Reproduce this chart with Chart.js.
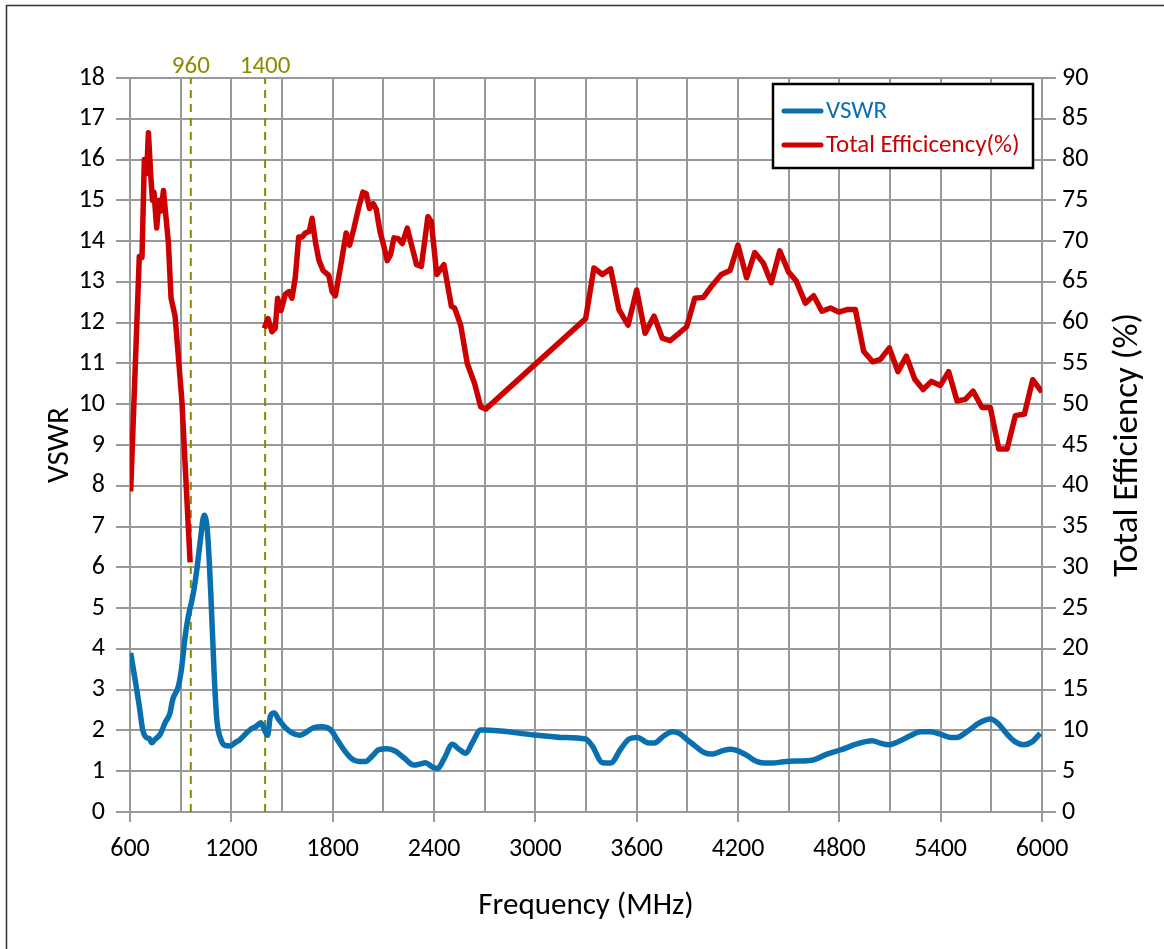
<!DOCTYPE html>
<html>
<head>
<meta charset="utf-8">
<title>VSWR / Total Efficiency</title>
<script src="https://cdn.jsdelivr.net/npm/chart.js@4.4.1/dist/chart.umd.min.js"></script>
<style>
  body { margin: 0; background: #fff; }
  canvas { display: block; }
</style>
</head>
<body>
<canvas id="antChart" width="1164" height="949"></canvas>
<script>
// VSWR olcum noktalari (MHz)
const vswrFreq = [604, 630, 655, 675, 699, 715, 729, 748, 778, 808, 837, 853, 887, 907, 927, 946, 972, 996, 1015, 1039,
  1059, 1079, 1098, 1114, 1138, 1164, 1193, 1223, 1253, 1276, 1312, 1347, 1375, 1395, 1415, 1431, 1454, 1480, 1520, 1559,
  1605, 1638, 1688, 1737, 1787, 1826, 1866, 1915, 1955, 1995, 2034, 2074, 2123, 2172, 2222, 2281, 2311, 2350, 2384, 2420,
  2459, 2509, 2548, 2588, 2627, 2676, 2696, 2992, 3150, 3298, 3337, 3397, 3446, 3505, 3555, 3604, 3663, 3703, 3762, 3811,
  3851, 3900, 3949, 3999, 4048, 4107, 4156, 4200, 4255, 4304, 4353, 4403, 4470, 4549, 4638, 4727, 4806, 4905, 4994, 5043,
  5092, 5151, 5220, 5280, 5339, 5398, 5457, 5497, 5556, 5635, 5694, 5743, 5793, 5842, 5891, 5941, 5990];
const vswrValues = [3.9, 3.25, 2.6, 2.02, 1.82, 1.8, 1.7, 1.78, 1.9, 2.19, 2.43, 2.76, 3.09, 3.58, 4.32, 4.81, 5.3, 5.95, 6.61, 7.28,
  6.85, 5.3, 3.42, 2.27, 1.78, 1.63, 1.62, 1.7, 1.78, 1.88, 2.02, 2.1, 2.19, 2.02, 1.88, 2.35, 2.43, 2.27, 2.07, 1.94,
  1.88, 1.94, 2.07, 2.09, 2.02, 1.78, 1.53, 1.3, 1.24, 1.24, 1.37, 1.53, 1.55, 1.49, 1.33, 1.15, 1.17, 1.21, 1.12, 1.06,
  1.3, 1.66, 1.54, 1.44, 1.7, 2.01, 2.01, 1.89, 1.83, 1.79, 1.62, 1.21, 1.2, 1.54, 1.79, 1.83, 1.7, 1.69, 1.87, 1.97,
  1.93, 1.77, 1.61, 1.46, 1.42, 1.5, 1.54, 1.5, 1.38, 1.25, 1.2, 1.2, 1.23, 1.25, 1.27, 1.42, 1.52, 1.67, 1.75, 1.69,
  1.65, 1.73, 1.87, 1.97, 1.97, 1.91, 1.83, 1.83, 1.97, 2.2, 2.28, 2.16, 1.91, 1.72, 1.65, 1.72, 1.93];

// Toplam verim (%) - 960 ile 1400 arasi olcum yok (null)
const effFreq = [604, 655, 671, 685, 699, 709, 723, 733, 742, 758, 772, 784, 798, 827, 843, 867, 907, 956,
  1180,
  1395, 1417, 1441, 1460, 1474, 1494, 1520, 1540, 1559, 1579, 1599, 1619, 1638, 1662, 1678, 1698, 1718, 1743, 1777, 1797,
  1816, 1846, 1880, 1900, 1925, 1955, 1979, 1999, 2018, 2040, 2058, 2080, 2103, 2123, 2142, 2163, 2188, 2212, 2242, 2262,
  2297, 2325, 2364, 2384, 2416, 2459, 2503, 2522, 2558, 2597, 2641, 2676, 2706, 3298, 3347, 3397, 3446, 3495, 3549, 3600,
  3650, 3703, 3752, 3798, 3851, 3896, 3944, 3995, 4048, 4101, 4153, 4200, 4251, 4299, 4350, 4397, 4447, 4500, 4545, 4599,
  4648, 4697, 4747, 4796, 4846, 4895, 4944, 4997, 5043, 5096, 5147, 5197, 5246, 5296, 5345, 5398, 5447, 5497, 5546, 5592,
  5645, 5694, 5744, 5793, 5842, 5896, 5945, 6000];
const effValues = [39.3, 68.1, 68, 80, 78.3, 83.3, 78, 75, 76, 71.6, 75, 73.7, 76.2, 69.9, 63, 60.8, 50.5, 30.6,
  null,
  59.3, 60.5, 58.9, 59.3, 63, 61.5, 63.5, 63.8, 63, 65.6, 70.5, 70.5, 71, 71.2, 72.8, 69.9, 67.7, 66.4, 65.8, 63.8,
  63.3, 66.8, 71, 69.5, 71.5, 74.2, 76, 75.8, 74, 74.6, 73.9, 71.2, 69.4, 67.6, 68.3, 70.4, 70.3, 69.7, 71.6, 69.9,
  67.1, 66.9, 73, 72.4, 65.9, 67.1, 62, 61.8, 59.7, 55, 52.5, 49.7, 49.4, 60.5, 66.7, 65.9, 66.6, 61.6, 59.7, 64,
  58.7, 60.8, 58.1, 57.8, 58.7, 59.5, 63, 63.1, 64.6, 65.9, 66.4, 69.5, 65.5, 68.6, 67.3, 64.9, 68.8, 66.2, 65.1, 62.4,
  63.3, 61.4, 61.8, 61.3, 61.6, 61.6, 56.5, 55.2, 55.5, 56.9, 54, 55.9, 53.1, 51.8, 52.8, 52.3, 54, 50.4, 50.6, 51.6,
  49.6, 49.6, 44.5, 44.5, 48.6, 48.8, 53, 51.5];

// Bant sinirlari (kesikli cizgiler)
const markerFreqs = [960, 1400];
const seriesLabels = ['VSWR', 'Total Efficicency(%)'];
const rightTitle = 'Total Efficiency (%)';

const BLUE = '#0a6fae';
const RED = '#cc0000';
const OLIVE = '#8a8a00';
const GRID = '#999999';
const FONT = 'Carlito, "Open Sans", sans-serif';

function toPoints(xs, ys) {
    return xs.map((x, i) => ({ x: x, y: ys[i] }));
}

const markerSets = markerFreqs.map(f => ({
    type: 'line',
    data: [{ x: f, y: 0 }, { x: f, y: 18 }],
    yAxisID: 'y',
    borderColor: OLIVE,
    borderWidth: 2,
    borderDash: [8, 6],
    pointRadius: 0,
    fill: false
}));

// Arka plan, cerceve ve sag eksen basligi
const framePlugin = {
    id: 'frame',
    beforeDraw(chart) {
        const c = chart.ctx;
        c.save();
        c.fillStyle = '#fff';
        c.fillRect(0, 0, chart.width, chart.height);
        c.strokeStyle = '#333';
        c.lineWidth = 1.5;
        c.beginPath();
        c.moveTo(6.5, chart.height);
        c.lineTo(6.5, 5.5);
        c.lineTo(chart.width, 5.5);
        c.stroke();
        // sag baslik asagidan yukariya okunuyor
        const a = chart.chartArea;
        c.translate(1128, (a.top + a.bottom) / 2);
        c.rotate(-Math.PI / 2);
        c.fillStyle = '#000';
        c.font = '35px ' + FONT;
        c.textAlign = 'center';
        c.textBaseline = 'middle';
        c.fillText(rightTitle, 0, 0);
        c.restore();
    }
};

// Grafik icindeki lejant kutusu
const legendBox = {
    id: 'legendBox',
    afterDraw(chart) {
        const c = chart.ctx;
        const x = 773, y = 84, w = 260, h = 84;
        c.save();
        c.fillStyle = '#fff';
        c.fillRect(x, y, w, h);
        c.strokeStyle = '#000';
        c.lineWidth = 2.5;
        c.strokeRect(x, y, w, h);
        c.font = '25px ' + FONT;
        c.textBaseline = 'middle';
        [BLUE, RED].forEach((col, i) => {
            const ly = y + 27 + i * 34;
            c.strokeStyle = col;
            c.lineWidth = 5;
            c.lineCap = 'round';
            c.beginPath();
            c.moveTo(x + 11, ly);
            c.lineTo(x + 48, ly);
            c.stroke();
            c.fillStyle = col;
            c.fillText(seriesLabels[i], x + 53, ly + 1);
        });
        c.restore();
    }
};

const ctx = document.getElementById('antChart').getContext('2d');
const chart = new Chart(ctx, {
    type: 'line',
    data: {
        datasets: [{
            label: seriesLabels[0],
            data: toPoints(vswrFreq, vswrValues),
            yAxisID: 'y',
            borderColor: BLUE,
            borderWidth: 5.5,
            pointRadius: 0,
            cubicInterpolationMode: 'monotone',
            fill: false
        }, {
            label: seriesLabels[1],
            data: toPoints(effFreq, effValues),
            yAxisID: 'y2',
            borderColor: RED,
            borderWidth: 5.5,
            pointRadius: 0,
            tension: 0,
            spanGaps: false,
            borderJoinStyle: 'round',
            fill: false
        }].concat(markerSets)
    },
    options: {
        responsive: false,
        animation: false,
        layout: { padding: 0 },
        plugins: {
            legend: { display: false },
            tooltip: { enabled: false }
        },
        scales: {
            x: {
                type: 'linear',
                position: 'bottom',
                min: 600,
                max: 6000,
                afterFit: s => { s.height = 137; },
                ticks: {
                    stepSize: 300,
                    autoSkip: false,
                    maxRotation: 0,
                    padding: 12,
                    color: '#000',
                    font: { family: FONT, size: 26 },
                    callback: v => (v % 600 === 0 ? String(v) : '')
                },
                grid: {
                    color: GRID,
                    lineWidth: 2,
                    tickLength: 10,
                    tickColor: c => (c.tick && c.tick.value % 600 === 0 ? GRID : 'rgba(0,0,0,0)')
                },
                border: { color: GRID, width: 2 },
                title: {
                    display: true,
                    text: 'Frequency (MHz)',
                    color: '#000',
                    font: { family: FONT, size: 31 },
                    padding: { top: 0, bottom: 24 }
                }
            },
            xTop: {
                type: 'linear',
                position: 'top',
                min: 600,
                max: 6000,
                afterFit: s => { s.height = 78; },
                afterBuildTicks: s => { s.ticks = markerFreqs.map(v => ({ value: v })); },
                ticks: {
                    autoSkip: false,
                    maxRotation: 0,
                    padding: -4,
                    color: OLIVE,
                    font: { family: FONT, size: 25 },
                    callback: v => String(v)
                },
                grid: { display: false, drawTicks: false },
                border: { display: false }
            },
            y: {
                position: 'left',
                min: 0,
                max: 18,
                afterFit: s => { s.width = 130; },
                ticks: {
                    stepSize: 1,
                    padding: 11,
                    color: '#000',
                    font: { family: FONT, size: 26 }
                },
                grid: { color: GRID, lineWidth: 2, tickLength: 14 },
                border: { color: GRID, width: 2 },
                title: {
                    display: true,
                    text: 'VSWR',
                    color: '#000',
                    font: { family: FONT, size: 31 },
                    padding: { top: 42, bottom: 0 }
                }
            },
            y2: {
                position: 'right',
                min: 0,
                max: 90,
                afterFit: s => { s.width = 122; },
                ticks: {
                    stepSize: 5,
                    padding: 6,
                    color: '#000',
                    font: { family: FONT, size: 26 }
                },
                grid: { drawOnChartArea: false, color: GRID, lineWidth: 2, tickLength: 14 },
                border: { color: GRID, width: 2 }
            }
        }
    },
    plugins: [framePlugin, legendBox]
});
</script>
</body>
</html>
